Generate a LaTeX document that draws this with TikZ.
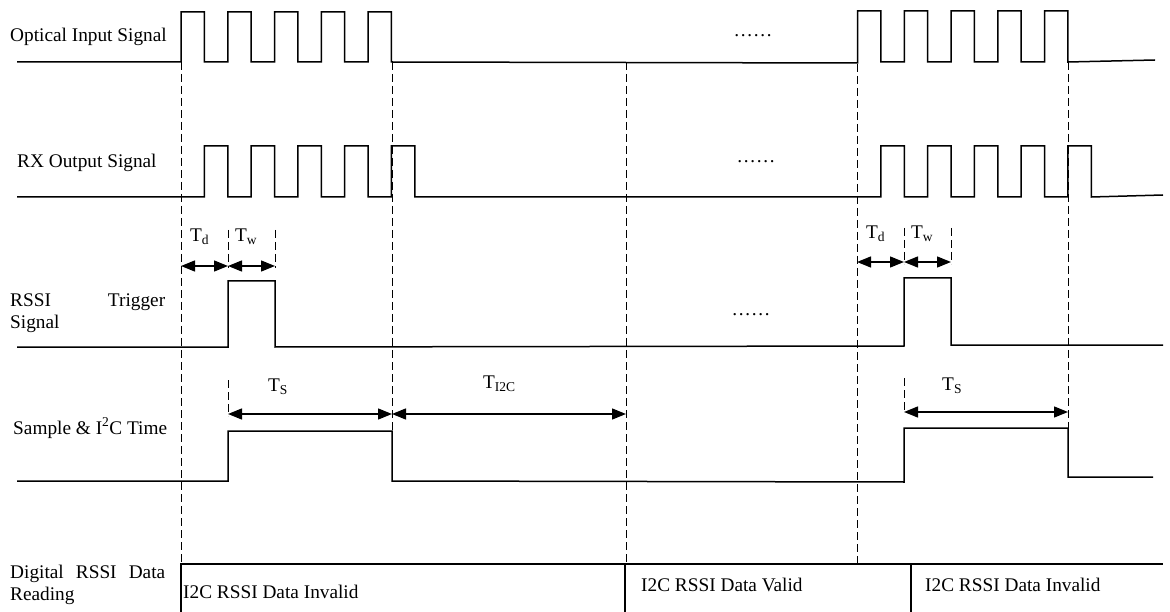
\documentclass[tikz,border=0pt]{standalone}
\usepackage{fontspec}
\setmainfont{Liberation Serif}
\usetikzlibrary{arrows.meta}

\begin{document}
\begin{tikzpicture}[
  x=1pt, y=-1pt,
  font={\fontsize{19.3}{22}\selectfont},
  wave/.style={line width=1.5pt},
  guide/.style={line width=0.9pt, dash pattern=on 8pt off 4pt},
  dim/.style={line width=1.4pt, {Triangle[length=14pt,width=11pt]}-{Triangle[length=14pt,width=11pt]}},
  lbl/.style={inner sep=0pt, anchor=west},
  sig/.style={inner sep=0pt, anchor=west, text width=155pt, align=justify}
]
\useasboundingbox (0,0) rectangle (1170,612);

% signal names
\node[lbl] (optname) at (10,37) {Optical Input Signal};
\node[lbl] (rxname) at (17,163) {RX Output Signal};
\node[sig] (trigname) at (10,313) {RSSI\hfill Trigger\\Signal};
\node[lbl] (samplename) at (13,428) {Sample \& I\textsuperscript{2}C Time};
\node[sig, text depth=0pt] (readname) at (10,572) {Digital\hfill RSSI\hfill Data\\Reading};

% optical input
\draw[wave] (17,62)
  foreach \k in {0,...,4} {-- ({181+46.75*\k},62) -- ({181+46.75*\k},12) -- ({204.4+46.75*\k},12) -- ({204.4+46.75*\k},62)}
  -- (857.5,63)
  foreach \k in {0,...,4} {-- ({857.5+46.75*\k},62) -- ({857.5+46.75*\k},11) -- ({880.9+46.75*\k},11) -- ({880.9+46.75*\k},62)}
  -- (1155,60);

% rx output
\draw[wave] (17,197)
  foreach \k in {0,...,4} {-- ({204.4+46.75*\k},197) -- ({204.4+46.75*\k},146) -- ({227.8+46.75*\k},146) -- ({227.8+46.75*\k},197)}
  -- (880.9,197)
  foreach \k in {0,...,4} {-- ({880.9+46.75*\k},197) -- ({880.9+46.75*\k},146) -- ({904.3+46.75*\k},146) -- ({904.3+46.75*\k},197)}
  -- (1163,195);

% trigger
\draw[wave] (17,347) -- (228,347) -- (228,281) -- (275,281) -- (275,347)
  -- (904,346) -- (904,278) -- (951,278) -- (951,345) -- (1163,345);

% sample and i2c
\draw[wave] (17,481) -- (228,481) -- (228,431) -- (392,431) -- (392,481)
  -- (904,482) -- (904,428) -- (1068,428) -- (1068,477) -- (1153,477);

% data reading
\draw[wave] (181,612) -- (181,564) -- (1163,564);
\draw[wave] (625,564) -- (625,612);
\draw[wave] (911,564) -- (911,612);

% guide lines
\draw[guide] (181,62) -- (181,564);
\draw[guide] (392,62) -- (392,431);
\draw[guide] (626,62) -- (626,564);
\draw[guide] (857,64) -- (857,564);
\draw[guide] (1068,62) -- (1068,428);
\draw[guide] (228,230) -- (228,268);
\draw[guide] (275,230) -- (275,268);
\draw[guide] (228,380) -- (228,416);
\draw[guide] (904,228) -- (904,264);
\draw[guide] (951,228) -- (951,264);
\draw[guide] (904,378) -- (904,413);

% time spans
\coordinate (tdA) at (181,266);
\coordinate (twA) at (228,266);
\coordinate (teA) at (275,266);
\coordinate (tsA) at (228,414);
\coordinate (tiA) at (392,414);
\coordinate (tiB) at (626,414);
\coordinate (tdB) at (857,262);
\coordinate (twB) at (904,262);
\coordinate (teB) at (951,262);
\coordinate (tsB) at (904,412);
\coordinate (tsC) at (1068,412);
\draw[dim] (tdA) -- (twA);
\draw[dim] (twA) -- (teA);
\draw[dim] (tsA) -- (tiA);
\draw[dim] (tiA) -- (tiB);
\draw[dim] (tdB) -- (twB);
\draw[dim] (twB) -- (teB);
\draw[dim] (tsB) -- (tsC);

\node[lbl] (lbltdA) at (190,237) {T\textsubscript{d}};
\node[lbl] (lbltwA) at (235,237) {T\textsubscript{w}};
\node[lbl] (lbltsA) at (268,387) {T\textsubscript{S}};
\node[lbl] (lbltiA) at (483,384) {T\textsubscript{I2C}};
\node[lbl] (lbltdB) at (866,234) {T\textsubscript{d}};
\node[lbl] (lbltwB) at (911,234) {T\textsubscript{w}};
\node[lbl] (lbltsB) at (942,386) {T\textsubscript{S}};

% repeat marks
\node[inner sep=0pt, anchor=base] (dotsA) at (753,37) {……};
\node[inner sep=0pt, anchor=base] (dotsB) at (756,163) {……};
\node[inner sep=0pt, anchor=base] (dotsC) at (751,316) {……};

% data states
\node[lbl] (invalidA) at (183,592) {I2C RSSI Data Invalid};
\node[lbl] (validA) at (641,585) {I2C RSSI Data Valid};
\node[lbl] (invalidB) at (925,585) {I2C RSSI Data Invalid};
\end{tikzpicture}
\end{document}
